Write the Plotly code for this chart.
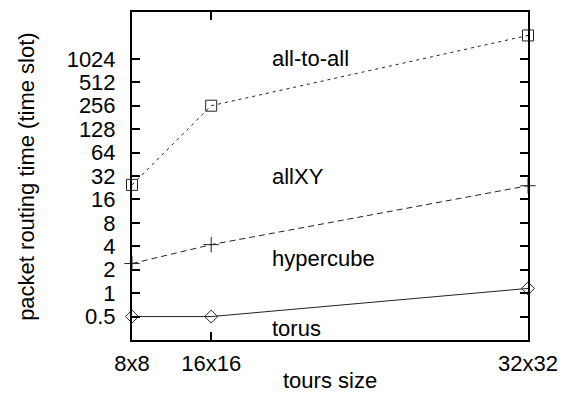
import math
import plotly.graph_objects as go

# Network sizes (nodes = N x N) and their tick labels
nodes = [64, 256, 1024]
size_labels = ["8x8", "16x16", "32x32"]

# Packet routing time (time slots) per topology
all_to_all = [24.6, 256, 2048]
hypercube = [2.4, 4.2, 24]
torus = [0.5, 0.5, 1.15]

# Log2 y ticks
y_ticks = [0.5, 1, 2, 4, 8, 16, 32, 64, 128, 256, 512, 1024]
y_tick_text = ["0.5", "1", "2", "4", "8", "16", "32", "64", "128", "256", "512", "1024"]

# In-plot series names
series_names = ["all-to-all", "allXY", "hypercube", "torus"]
name_pos = [(0.348, 0.857), (0.348, 0.5), (0.348, 0.248), (0.348, 0.036)]

FONT = "Liberation Sans, Arial, Helvetica, sans-serif"
FS = 22
INK = "#222222"

fig = go.Figure()

fig.add_trace(go.Scatter(
    x=nodes, y=all_to_all, mode="lines+markers",
    line=dict(color=INK, width=1, dash="3px,4px"),
    marker=dict(symbol="square-open", size=11, color=INK, line=dict(width=1)),
    showlegend=False, cliponaxis=False,
))
fig.add_trace(go.Scatter(
    x=nodes, y=hypercube, mode="lines",
    line=dict(color=INK, width=1, dash="6px,4px"),
    showlegend=False, cliponaxis=False,
))
fig.add_trace(go.Scatter(
    x=nodes, y=hypercube, mode="markers",
    marker=dict(symbol="cross-thin-open", size=11, color=INK, line=dict(width=1, color=INK)),
    showlegend=False, cliponaxis=False,
))
fig.add_trace(go.Scatter(
    x=nodes, y=torus, mode="lines+markers",
    line=dict(color=INK, width=1),
    marker=dict(symbol="diamond-open", size=10, color=INK, line=dict(width=1)),
    showlegend=False, cliponaxis=False,
))

annotations = []
for name, (px, py) in zip(series_names, name_pos):
    annotations.append(dict(
        x=px, y=py, xref="paper", yref="paper", text=name,
        showarrow=False, xanchor="left", yanchor="middle",
        font=dict(family=FONT, size=FS, color="black"),
    ))
annotations.append(dict(
    x=0.5, y=-0.124, xref="paper", yref="paper", text="tours size",
    showarrow=False, xanchor="center", yanchor="middle",
    font=dict(family=FONT, size=FS, color="black"),
))
annotations.append(dict(
    x=-0.268, y=0.5, xref="paper", yref="paper", text="packet routing time (time slot)",
    showarrow=False, xanchor="center", yanchor="middle", textangle=-90,
    font=dict(family=FONT, size=FS, color="black"),
))

fig.update_layout(
    width=568, height=393,
    margin=dict(l=132, r=31, t=10, b=53),
    paper_bgcolor="white", plot_bgcolor="white",
    font=dict(family=FONT, size=FS, color="black"),
    annotations=annotations,
)
fig.update_xaxes(
    range=[64, 1024], tickvals=nodes, ticktext=size_labels,
    ticks="inside", ticklen=8, tickwidth=1.5, tickcolor="black",
    showline=True, linecolor="black", linewidth=2, mirror="ticks",
    showgrid=False, zeroline=False, ticklabelstandoff=3,
    tickfont=dict(family=FONT, size=FS, color="black"),
)
fig.update_yaxes(
    type="log", range=[math.log10(0.25), math.log10(4096)],
    tickvals=y_ticks, ticktext=y_tick_text,
    ticks="inside", ticklen=8, tickwidth=1.5, tickcolor="black",
    showline=True, linecolor="black", linewidth=2, mirror="ticks",
    showgrid=False, zeroline=False, ticklabelstandoff=10,
    tickfont=dict(family=FONT, size=FS, color="black"),
)

fig.write_html("out.html")
